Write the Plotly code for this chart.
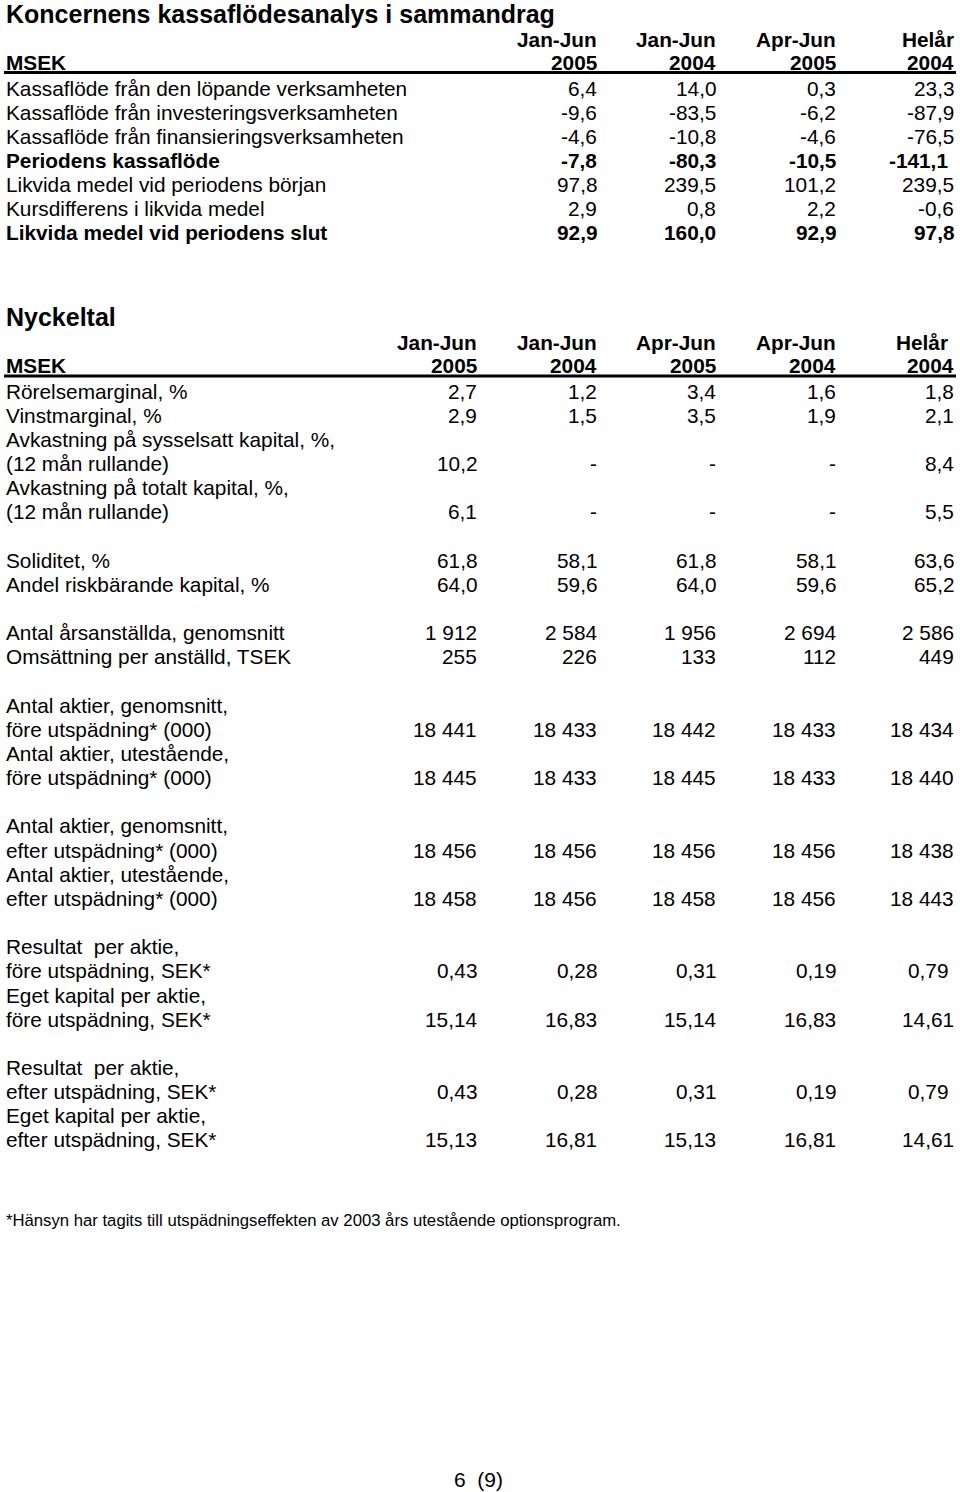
import plotly.graph_objects as go

# ---------------- data ----------------
title_cf = "Koncernens kassaflödesanalys i sammandrag"
cf_head_top = ["Jan-Jun", "Jan-Jun", "Apr-Jun", "Helår"]
cf_head_bot = ["2005", "2004", "2005", "2004"]
cf_labels = [
    "Kassaflöde från den löpande verksamheten",
    "Kassaflöde från investeringsverksamheten",
    "Kassaflöde från finansieringsverksamheten",
    "Periodens kassaflöde",
    "Likvida medel vid periodens början",
    "Kursdifferens i likvida medel",
    "Likvida medel vid periodens slut",
]
cf_bold = [False, False, False, True, False, False, True]
cf_jan_jun_2005 = ["6,4", "-9,6", "-4,6", "-7,8", "97,8", "2,9", "92,9"]
cf_jan_jun_2004 = ["14,0", "-83,5", "-10,8", "-80,3", "239,5", "0,8", "160,0"]
cf_apr_jun_2005 = ["0,3", "-6,2", "-4,6", "-10,5", "101,2", "2,2", "92,9"]
cf_helar_2004 = ["23,3", "-87,9", "-76,5", "-141,1\u00a0", "239,5", "-0,6", "97,8"]

title_kt = "Nyckeltal"
kt_head_top = ["Jan-Jun", "Jan-Jun", "Apr-Jun", "Apr-Jun", "Helår\u00a0"]
kt_head_bot = ["2005", "2004", "2005", "2004", "2004"]
# each entry: label line, or None for a blank line; values only on lines that carry them
kt_labels = [
    "Rörelsemarginal, %",
    "Vinstmarginal, %",
    "Avkastning på sysselsatt kapital, %,",
    "(12 mån rullande)",
    "Avkastning på totalt kapital, %,",
    "(12 mån rullande)",
    None,
    "Soliditet, %",
    "Andel riskbärande kapital, %",
    None,
    "Antal årsanställda, genomsnitt",
    "Omsättning per anställd, TSEK",
    None,
    "Antal aktier, genomsnitt,",
    "före utspädning* (000)",
    "Antal aktier, utestående,",
    "före utspädning* (000)",
    None,
    "Antal aktier, genomsnitt,",
    "efter utspädning* (000)",
    "Antal aktier, utestående,",
    "efter utspädning* (000)",
    None,
    "Resultat \u00a0per aktie,",
    "före utspädning, SEK*",
    "Eget kapital per aktie,",
    "före utspädning, SEK*",
    None,
    "Resultat \u00a0per aktie,",
    "efter utspädning, SEK*",
    "Eget kapital per aktie,",
    "efter utspädning, SEK*",
]
E = ""
kt_jan_jun_2005 = ["2,7", "2,9", E, "10,2", E, "6,1", E, "61,8", "64,0", E, "1 912", "255", E,
                   E, "18 441", E, "18 445", E, E, "18 456", E, "18 458", E,
                   E, "0,43", E, "15,14", E, E, "0,43", E, "15,13"]
kt_jan_jun_2004 = ["1,2", "1,5", E, "-", E, "-", E, "58,1", "59,6", E, "2 584", "226", E,
                   E, "18 433", E, "18 433", E, E, "18 456", E, "18 456", E,
                   E, "0,28", E, "16,83", E, E, "0,28", E, "16,81"]
kt_apr_jun_2005 = ["3,4", "3,5", E, "-", E, "-", E, "61,8", "64,0", E, "1 956", "133", E,
                   E, "18 442", E, "18 445", E, E, "18 456", E, "18 458", E,
                   E, "0,31", E, "15,14", E, E, "0,31", E, "15,13"]
kt_apr_jun_2004 = ["1,6", "1,9", E, "-", E, "-", E, "58,1", "59,6", E, "2 694", "112", E,
                   E, "18 433", E, "18 433", E, E, "18 456", E, "18 456", E,
                   E, "0,19", E, "16,83", E, E, "0,19", E, "16,81"]
kt_helar_2004 = ["1,8", "2,1", E, "8,4", E, "5,5", E, "63,6", "65,2", E, "2 586", "449", E,
                 E, "18 434", E, "18 440", E, E, "18 438", E, "18 443", E,
                 E, "0,79\u00a0", E, "14,61", E, E, "0,79\u00a0", E, "14,61"]

footnote = "*Hänsyn har tagits till utspädningseffekten av 2003 års utestående optionsprogram."
page_no = "6\u00a0 (9)"

# ---------------- layout constants ----------------
W, H = 960, 1492
FONT = "Liberation Sans, Arial, Helvetica, sans-serif"
BODY = 20.8
PITCH = 24.16
LEFT = 4
cf_col_right = [599, 718, 838, 956]
kt_col_right = [479, 599, 718, 838, 956]

fig = go.Figure()
ann = []
shapes = []


def txt(x, y, s, anchor="left", bold=False, size=BODY):
    if bold:
        s = "<b>" + s + "</b>"
    ann.append(dict(x=x, y=y, xref="x", yref="y", text=s, showarrow=False,
                    xanchor=anchor, yanchor="middle",
                    font=dict(family=FONT, size=size, color="black")))


# Table 1
txt(LEFT, 14, title_cf, bold=True, size=25)
y_h1, y_h2 = 39, 62
for xr, a, b in zip(cf_col_right, cf_head_top, cf_head_bot):
    txt(xr, y_h1, a, "right", True)
    txt(xr, y_h2, b, "right", True)
txt(LEFT, y_h2, "MSEK", bold=True)
shapes.append(dict(type="line", xref="x", yref="y", x0=LEFT, x1=956, y0=72.5, y1=72.5,
                   line=dict(color="black", width=3)))
cf_cols = [cf_jan_jun_2005, cf_jan_jun_2004, cf_apr_jun_2005, cf_helar_2004]
y0 = 88
for i, lab in enumerate(cf_labels):
    y = y0 + i * 24.0
    txt(LEFT, y, lab, bold=cf_bold[i])
    for xr, col in zip(cf_col_right, cf_cols):
        txt(xr, y, col[i], "right", cf_bold[i])

# Table 2
txt(LEFT, 317, title_kt, bold=True, size=25)
y_h1, y_h2 = 342, 365
for xr, a, b in zip(kt_col_right, kt_head_top, kt_head_bot):
    txt(xr, y_h1, a, "right", True)
    txt(xr, y_h2, b, "right", True)
txt(LEFT, y_h2, "MSEK", bold=True)
shapes.append(dict(type="line", xref="x", yref="y", x0=LEFT, x1=956, y0=376, y1=376,
                   line=dict(color="black", width=3)))
kt_cols = [kt_jan_jun_2005, kt_jan_jun_2004, kt_apr_jun_2005, kt_apr_jun_2004, kt_helar_2004]
y0 = 391
for i, lab in enumerate(kt_labels):
    if lab is None:
        continue
    y = y0 + i * PITCH
    txt(LEFT, y, lab)
    for xr, col in zip(kt_col_right, kt_cols):
        if col[i]:
            txt(xr, y, col[i], "right")

txt(LEFT, 1220, footnote, size=16.7)
txt(478, 1479, page_no, "center", size=21)

fig.update_layout(
    width=W, height=H,
    margin=dict(l=0, r=0, t=0, b=0),
    paper_bgcolor="white", plot_bgcolor="white",
    xaxis=dict(range=[0, W], visible=False, fixedrange=True),
    yaxis=dict(range=[H, 0], visible=False, fixedrange=True),
    annotations=ann, shapes=shapes, showlegend=False,
)
fig.write_html(
    "out.html",
    config={"displayModeBar": False},
    post_script="document.body.style.margin='0';document.body.style.padding='0';"
                "document.documentElement.style.overflow='hidden';",
)
